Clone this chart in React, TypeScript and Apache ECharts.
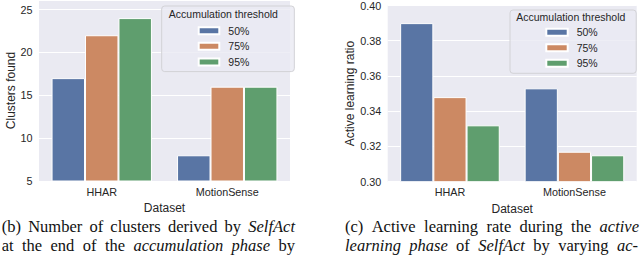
import React, { useEffect, useRef } from "react";
import * as echarts from "echarts";

const categories = ["HHAR", "MotionSense"];
const thresholds = ["50%", "75%", "95%"];
const clusters50 = [17, 8];
const clusters75 = [22, 16];
const clusters95 = [24, 16];
const ratio50 = [0.39, 0.353];
const ratio75 = [0.348, 0.317];
const ratio95 = [0.332, 0.315];
const colors = ["#5975A4", "#CC8963", "#5F9E6E"];

const captionB1: [string, boolean][] = [
  ["(b)", false], ["Number", false], ["of", false], ["clusters", false], ["derived", false], ["by", false], ["SelfAct", true],
];
const captionB2: [string, boolean][] = [
  ["at", false], ["the", false], ["end", false], ["of", false], ["the", false], ["accumulation", true], ["phase", true], ["by", false],
];
const captionC1: [string, boolean][] = [
  ["(c)", false], ["Active", false], ["learning", false], ["rate", false], ["during", false], ["the", false], ["active", true],
];
const captionC2: [string, boolean][] = [
  ["learning", true], ["phase", true], ["of", false], ["SelfAct", true], ["by", false], ["varying", false], ["ac-", true],
];

const SANS = "'Liberation Sans', Arial, sans-serif";
const SERIF = "'Liberation Serif', 'Times New Roman', serif";
const TXT = "#262626";
const BG = "#EAEAF2";
const CAP_SIZE = 16.5;

function makeMeasure() {
  const ctx = document.createElement("canvas").getContext("2d") as CanvasRenderingContext2D;
  return (t: string, italic: boolean) => {
    ctx.font = `${italic ? "italic " : ""}${CAP_SIZE}px 'Liberation Serif', 'Times New Roman', serif`;
    return ctx.measureText(t).width;
  };
}

function justified(words: [string, boolean][], x0: number, x1: number, y: number) {
  const measure = makeMeasure();
  const widths = words.map(([w, it]) => measure(w, it));
  const total = widths.reduce((a, b) => a + b, 0);
  const gap = (x1 - x0 - total) / (words.length - 1);
  let x = x0;
  return words.map(([w, it], k) => {
    const el = {
      type: "text",
      z: 100,
      x,
      y,
      style: {
        text: w,
        verticalAlign: "middle",
        fontSize: CAP_SIZE,
        lineHeight: 16,
        fontStyle: it ? "italic" : "normal",
        fontFamily: SERIF,
        fill: "#111111",
      },
    };
    x += widths[k] + gap;
    return el;
  });
}

export default function App() {
  const ref = useRef<HTMLDivElement>(null);
  useEffect(() => {
    const chart = echarts.init(ref.current as HTMLDivElement, null, {
      renderer: "svg",
      width: 640,
      height: 255,
    });
    const clusterData = [clusters50, clusters75, clusters95];
    const ratioData = [ratio50, ratio75, ratio95];
    const mkSeries = (data: number[], i: number, axis: number) => ({
      type: "bar",
      name: thresholds[i],
      xAxisIndex: axis,
      yAxisIndex: axis,
      data,
      barGap: "0%",
      barCategoryGap: "20%",
      itemStyle: { color: colors[i], borderColor: "#ffffff", borderWidth: 1 },
    });
    const xAxisBase = (gridIndex: number, nameGap: number) => ({
      type: "category",
      gridIndex,
      data: categories,
      axisLine: { show: false },
      axisTick: { show: false },
      splitLine: { show: false },
      axisLabel: { margin: 5, fontSize: 10.8, color: TXT, fontFamily: SANS },
      name: "Dataset",
      nameLocation: "middle",
      nameGap,
      nameTextStyle: { fontSize: 12, color: TXT, fontFamily: SANS },
    });
    const legendBase = (left: number, top: number, padding: number[], itemWidth: number, itemGap: number) => ({
      orient: "vertical",
      left,
      top,
      data: thresholds,
      icon: "rect",
      itemWidth,
      itemHeight: 7,
      itemGap,
      padding,
      selectedMode: false,
      backgroundColor: "rgba(234,234,242,0.8)",
      borderColor: "#d2d2d6",
      borderWidth: 1,
      borderRadius: 3,
      textStyle: { fontSize: 10.5, lineHeight: 12, color: TXT, fontFamily: SANS, padding: [0, 0, 0, 4] },
    });
    const option: any = {
      animation: false,
      backgroundColor: "#ffffff",
      grid: [
        { left: 39, right: 350, top: 0, bottom: 74, show: true, backgroundColor: BG, borderWidth: 0 },
        { left: 387.7, right: 3.3, top: 3.3, bottom: 73.3, show: true, backgroundColor: BG, borderWidth: 0 },
      ],
      xAxis: [xAxisBase(0, 16.5), xAxisBase(1, 17)],
      yAxis: [
        {
          type: "value",
          gridIndex: 0,
          min: 5,
          max: 26.11,
          interval: 5,
          axisLine: { show: false },
          axisTick: { show: false },
          axisLabel: { margin: 6.5, fontSize: 10.8, color: TXT, fontFamily: SANS, showMaxLabel: false },
          splitLine: { lineStyle: { color: "#ffffff", width: 1.2 } },
          name: "Clusters found",
          nameLocation: "middle",
          nameGap: 21.5,
          nameTextStyle: { fontSize: 12, color: TXT, fontFamily: SANS },
        },
        {
          type: "value",
          gridIndex: 1,
          min: 0.3,
          max: 0.4,
          interval: 0.02,
          axisLine: { show: false },
          axisTick: { show: false },
          axisLabel: {
            margin: 6.5,
            fontSize: 10.8,
            color: TXT,
            fontFamily: SANS,
            formatter: (v: number) => v.toFixed(2),
          },
          splitLine: { lineStyle: { color: "#ffffff", width: 1.2 } },
          name: "Active learning ratio",
          nameLocation: "middle",
          nameGap: 30,
          nameTextStyle: { fontSize: 12, color: TXT, fontFamily: SANS },
        },
      ],
      legend: [
        legendBase(161.7, 6, [18.7, 45, 3.7, 36], 20.6, 3.6),
        legendBase(510, 10, [16.3, 38.5, 4, 35.3], 21.4, 3.5),
      ],
      series: [
        ...clusterData.map((d, i) => mkSeries(d, i, 0)),
        ...ratioData.map((d, i) => mkSeries(d, i, 1)),
      ],
      graphic: [
        {
          type: "text",
          z: 100,
          x: 223.4,
          y: 14.3,
          style: {
            text: "Accumulation threshold",
            align: "center",
            verticalAlign: "middle",
            fontSize: 10.5,
            fontFamily: SANS,
            fill: TXT,
          },
        },
        {
          type: "text",
          z: 100,
          x: 570.8,
          y: 16.7,
          style: {
            text: "Accumulation threshold",
            align: "center",
            verticalAlign: "middle",
            fontSize: 10.5,
            fontFamily: SANS,
            fill: TXT,
          },
        },
        ...justified(captionB1, 1.7, 295, 226.5),
        ...justified(captionB2, 1.7, 295, 245.5),
        ...justified(captionC1, 345, 639, 226.5),
        ...justified(captionC2, 345, 638, 245.5),
      ],
    };
    chart.setOption(option);
    return () => chart.dispose();
  }, []);
  return (
    <div
      ref={ref}
      style={{ position: "absolute", left: 0, top: 0, width: 640, height: 255, background: "#ffffff" }}
    />
  );
}
